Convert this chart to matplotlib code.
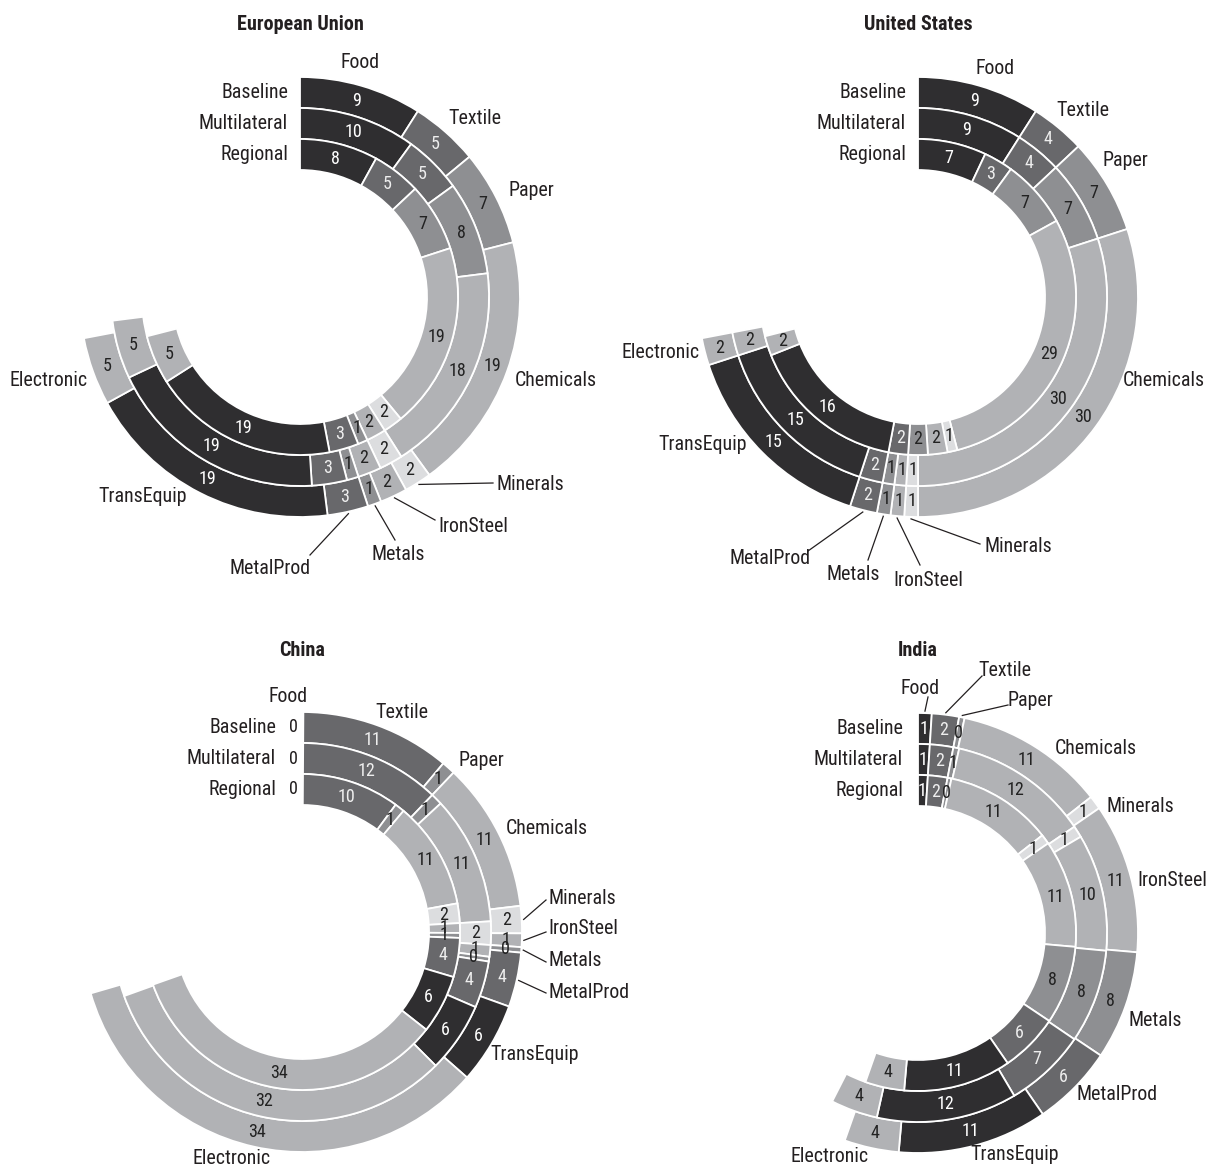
#多環甜甜圈圖: 各地區產業份額 (Baseline / Multilateral / Regional)
import os
import numpy as np
import matplotlib.pyplot as plt
from matplotlib import font_manager
from matplotlib.font_manager import FontProperties


#找窄體字型檔 (依序嘗試)，找不到就退回 Liberation Sans / DejaVu Sans
def pickFont(keys):
    files = {os.path.basename(f.fname).lower(): f.fname for f in font_manager.fontManager.ttflist}
    for k in keys:
        for b, path in files.items():
            if b.startswith(k):
                return FontProperties(fname=path)
    return None


fpReg = pickFont(['liberationsansnarrow-regular', 'robotocondensed-regular',
                  'dejavusanscondensed.', 'notosans-condensed.', 'liberationsans-regular'])
fpBold = pickFont(['liberationsansnarrow-bold.', 'robotocondensed-bold.',
                   'dejavusanscondensed-bold.', 'notosans-condensedbold.', 'liberationsans-bold.'])
if fpReg is None:
    fpReg = FontProperties(family='DejaVu Sans')
if fpBold is None:
    fpBold = FontProperties(family='DejaVu Sans', weight='bold')

# >>>資料 (單位: %，100 = 整圈)
sectors = ['Food', 'Textile', 'Paper', 'Chemicals', 'Minerals', 'IronSteel',
           'Metals', 'MetalProd', 'TransEquip', 'Electronic']
rings = ['Baseline', 'Multilateral', 'Regional']

euBase = [9, 5, 7, 19, 2, 2, 1, 3, 19, 5]
euMulti = [10, 5, 8, 18, 2, 2, 1, 3, 19, 5]
euReg = [8, 5, 7, 19, 2, 2, 1, 3, 19, 5]

usBase = [9, 4, 7, 30, 1, 1, 1, 2, 15, 2]
usMulti = [9, 4, 7, 30, 1, 1, 1, 2, 15, 2]
usReg = [7, 3, 7, 29, 1, 2, 2, 2, 16, 2]

chinaBase = [0.1, 11, 1, 11, 2, 1, 0.4, 4, 6, 34]
chinaMulti = [0.1, 12, 1, 11, 2, 1, 0.4, 4, 6, 32]
chinaReg = [0.1, 10, 1, 11, 2, 1, 0.5, 4, 6, 34]

indiaBase = [1, 2, 0.4, 11, 1, 11, 8, 6, 11, 4]
indiaMulti = [1, 2, 0.5, 12, 1, 10, 8, 7, 12, 4]
indiaReg = [1, 2, 0.4, 11, 1, 11, 8, 6, 11, 4]

# >>>色彩設定
colors = ['#2f2e30', '#68686b', '#8e8f92', '#b1b2b5', '#dcdddf',
          '#b1b2b5', '#8e8f92', '#68686b', '#2f2e30', '#b1b2b5']
txtColors = ['white', '#eeeeee', '#222222', '#222222', '#222222',
             '#222222', '#222222', '#eeeeee', 'white', '#222222']
ink = '#231f20'

# >>>版面 (像素，相對於圓心；lx,ly = 引線終點)
W, H = 1208, 1169
R = 220
ringW = 31
labSize = 14.3
valSize = 13
titleSize = 14.5

euLab = [(60, -234, 'center', None, None), (148, -178, 'left', None, None),
         (208, -106, 'left', None, None), (215, 84, 'left', None, None),
         (196, 188, 'left', 193, 186), (138, 229, 'left', 135, 223),
         (98, 257, 'center', 95, 243), (-30, 271, 'center', 10, 258),
         (-157, 200, 'center', None, None), (-212, 84, 'right', None, None)]
usLab = [(77, -229, 'center', None, None), (138, -187, 'left', None, None),
         (184, -136, 'left', None, None), (205, 84, 'left', None, None),
         (66, 250, 'left', 62, 247), (10, 283, 'center', 2, 268),
         (-65, 278, 'center', -50, 263), (-148, 262, 'center', -110, 254),
         (-215, 147, 'center', None, None), (-218, 55, 'right', None, None)]
chinaLab = [(-14, -236, 'center', None, None), (73, -220, 'left', None, None),
            (156, -171, 'left', None, None), (204, -103, 'left', None, None),
            (246, -34, 'left', 244, -32), (246, -3, 'left', 244, 0),
            (246, 28, 'left', 244, 30), (246, 60, 'left', 244, 61),
            (188, 123, 'left', None, None), (-70, 226, 'center', None, None)]
indiaLab = [(2, -245, 'center', 10, -236), (87, -263, 'center', 64, -257),
            (112, -233, 'center', 90, -228), (137, -185, 'left', None, None),
            (189, -127, 'left', None, None), (219, -52, 'left', None, None),
            (210, 87, 'left', None, None), (159, 162, 'left', None, None),
            (97, 222, 'center', None, None), (-88, 224, 'center', None, None)]

fig = plt.figure(figsize=(W / 100, H / 100), dpi=100)
ax = fig.add_axes([0, 0, 1, 1])


def drawPanel(title, cx, cy, titleY, data, labPos, ringDx=12):
    y0 = H - cy                                   #圖片座標 -> matplotlib 座標
    ax.text(cx, H - titleY, title, ha='center', va='center',
            fontproperties=fpBold, fontsize=titleSize, color=ink)
    outer = None
    for i, vals in enumerate(data):
        r = R - i * ringW
        wedges, _ = ax.pie(np.array(vals) / 100, radius=r, center=(cx, y0),
                           startangle=90, counterclock=False, normalize=False,
                           colors=colors,
                           wedgeprops=dict(width=ringW, edgecolor='white', linewidth=1.3))
        if i == 0:
            outer = wedges
        rm = r - ringW / 2
        ax.text(cx - ringDx, y0 + rm, rings[i], ha='right', va='center',
                fontproperties=fpReg, fontsize=labSize, color=ink)
        for j, (w, v) in enumerate(zip(wedges, vals)):
            lab = str(int(v + 0.5))
            if j == 0 and v < 0.3:                #幾乎為0的第一塊，數字放在外側
                ax.text(cx - 4, y0 + rm, lab, ha='right', va='center',
                        fontproperties=fpReg, fontsize=valSize, color=ink)
                continue
            th = np.deg2rad((w.theta1 + w.theta2) / 2)
            ax.text(cx + rm * np.cos(th), y0 + rm * np.sin(th), lab, ha='center',
                    va='center', fontproperties=fpReg, fontsize=valSize, color=txtColors[j])
    #類別標籤與引線
    for j, (tx, ty, ha, lx, ly) in enumerate(labPos):
        ax.text(cx + tx, y0 - ty, sectors[j], ha=ha, va='center',
                fontproperties=fpReg, fontsize=labSize, color=ink)
        if lx is not None:
            w = outer[j]
            th = np.deg2rad((w.theta1 + w.theta2) / 2)
            sx, sy = cx + (R + 2) * np.cos(th), y0 + (R + 2) * np.sin(th)
            ax.plot([sx, cx + lx], [sy, y0 - ly], color=ink, lw=0.9)


drawPanel('European Union', 300, 297, 25, [euBase, euMulti, euReg], euLab)
drawPanel('United States', 918, 297, 25, [usBase, usMulti, usReg], usLab)
drawPanel('China', 302, 932, 650, [chinaBase, chinaMulti, chinaReg], chinaLab, ringDx=26)
drawPanel('India', 918, 933, 650, [indiaBase, indiaMulti, indiaReg], indiaLab, ringDx=15)

ax.set_xlim(0, W)
ax.set_ylim(0, H)
ax.axis('off')
fig.savefig('out.png', dpi=100)
